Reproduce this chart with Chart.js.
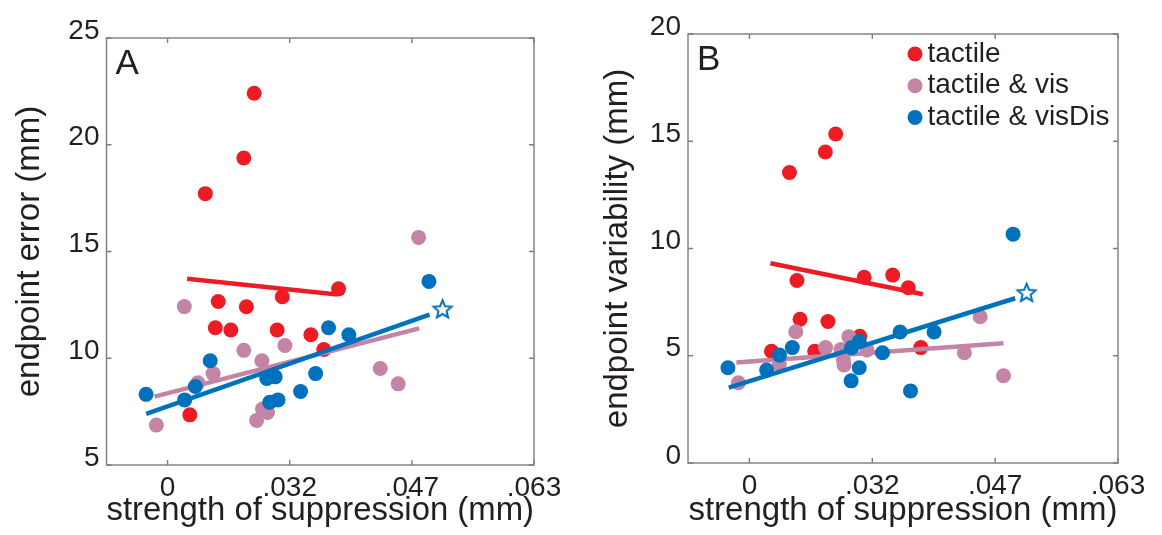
<!DOCTYPE html>
<html lang="en">
<head>
<meta charset="UTF-8" />
<title>Strength of suppression vs endpoint error / variability</title>
<script src="https://cdn.jsdelivr.net/npm/chart.js"></script>
<style>
  html, body { margin: 0; padding: 0; background: #fff; }
  #wrap { position: relative; width: 1162px; height: 535px; }
  .panel { position: absolute; top: 0; height: 535px; }
  #panelA { left: 0; width: 580px; }
  #panelB { left: 580px; width: 582px; }
</style>
</head>
<body>
<div id="wrap">
  <div class="panel" id="panelA"><canvas id="chartA" width="580" height="535"></canvas></div>
  <div class="panel" id="panelB"><canvas id="chartB" width="582" height="535"></canvas></div>
</div>

<script>
  // x axis is an index scale: tick i carries the label xTickLabels[i]
  const xTickVals = [0, 1, 2, 3];
  const xTickLabels = ["0", ".032", ".047", ".063"];
  const groupNames = ["tactile", "tactile & vis", "tactile & visDis"];
  const groupColors = ["#ed1c24", "#c484a6", "#0071bc"];

  // panel A - endpoint error
  const aTicksY = [5, 10, 15, 20, 25];
  const aTactileX = [0.709, 0.624, 0.309, 1.40, 0.939, 0.415, 0.645, 0.391, 0.518, 0.897, 1.173, 1.279, 0.182];
  const aTactileY = [22.41, 19.38, 17.71, 13.25, 12.88, 12.66, 12.41, 11.43, 11.32, 11.32, 11.1, 10.41, 7.35];
  const aVisX = [2.055, 0.137, 0.624, 0.961, 0.772, 0.373, 0.248, 1.741, 1.888, 0.777, 0.818, 0.729, -0.092];
  const aVisY = [15.66, 12.42, 10.37, 10.6, 9.88, 9.28, 8.85, 9.52, 8.8, 7.62, 7.46, 7.09, 6.87];
  const aVisDisX = [2.14, 1.318, 1.484, 0.349, 1.212, 0.812, 0.881, 0.227, -0.176, 1.089, 0.14, 0.836, 0.904];
  const aVisDisY = [13.6, 11.43, 11.1, 9.88, 9.28, 9.05, 9.13, 8.68, 8.31, 8.44, 8.05, 7.94, 8.05];
  const aFitTactileX = [0.16, 1.39];
  const aFitTactileY = [13.72, 12.99];
  const aFitVisX = [-0.107, 2.06];
  const aFitVisY = [8.2, 11.4];
  const aFitVisDisX = [-0.175, 2.145];
  const aFitVisDisY = [7.39, 12.04];
  const aStarX = [2.251];
  const aStarY = [12.32];

  // panel B - endpoint variability
  const bTicksY = [0, 5, 10, 15, 20];
  const bTactileX = [0.326, 0.618, 0.702, 0.387, 0.934, 1.166, 1.293, 0.412, 0.639, 0.898, 0.179, 0.531, 1.395];
  const bTactileY = [13.54, 14.5, 15.34, 8.51, 8.66, 8.76, 8.17, 6.7, 6.6, 5.91, 5.21, 5.21, 5.38];
  const bVisX = [1.878, 0.377, 0.81, 0.62, 0.745, 0.957, 1.75, 0.765, 0.77, 0.243, 2.068, -0.09];
  const bVisY = [6.82, 6.12, 5.89, 5.38, 5.29, 5.27, 5.14, 4.8, 4.57, 4.59, 4.07, 3.74];
  const bVisDisX = [-0.175, 0.14, 0.245, 0.349, 0.828, 0.831, 0.894, 0.894, 1.083, 1.226, 1.311, 1.503, 2.146];
  const bVisDisY = [4.44, 4.33, 5.03, 5.38, 3.83, 5.37, 5.67, 4.44, 5.14, 6.11, 3.36, 6.11, 10.67];
  const bFitTactileX = [0.171, 1.412];
  const bFitTactileY = [9.31, 7.87];
  const bFitVisX = [-0.106, 2.068];
  const bFitVisY = [4.69, 5.58];
  const bFitVisDisX = [-0.168, 2.163];
  const bFitVisDisY = [3.51, 7.68];
  const bStarX = [2.256];
  const bStarY = [7.96];

  const FONT = '"Liberation Sans", Arial, sans-serif';
  const TEXT = "#231f20";
  const AXIS = "#7d7d7d";
  Chart.defaults.font.family = FONT;

  const pts = (xs, ys) => xs.map((x, i) => ({ x, y: ys[i] }));

  // open five-point star marker
  const starMarker = (color, r) => {
    const c = document.createElement("canvas");
    const s = Math.ceil(r * 2 + 6);
    c.width = s; c.height = s;
    const g = c.getContext("2d");
    g.translate(s / 2, s / 2 + 1);
    g.beginPath();
    for (let i = 0; i < 10; i++) {
      const rad = i % 2 ? r * 0.45 : r;
      const a = -Math.PI / 2 + i * Math.PI / 5;
      g.lineTo(rad * Math.cos(a), rad * Math.sin(a));
    }
    g.closePath();
    g.fillStyle = "#fff";
    g.fill();
    g.strokeStyle = color;
    g.lineWidth = 2;
    g.stroke();
    return c;
  };

  const dots = (xs, ys, color, order) => ({
    data: pts(xs, ys), backgroundColor: color, borderWidth: 0,
    pointRadius: 7.5, pointHoverRadius: 7.5, order
  });
  const fit = (xs, ys, color, order) => ({
    data: pts(xs, ys), showLine: true, borderColor: color, borderWidth: 4.5,
    pointRadius: 0, order
  });

  // box, inward ticks, panel letter, legend
  const decor = {
    id: "decor",
    beforeDatasetsDraw(chart) {
      const { ctx, chartArea: { left, right, top, bottom }, scales: { x, y } } = chart;
      ctx.save();
      ctx.strokeStyle = AXIS;
      ctx.lineWidth = 1.4;
      ctx.strokeRect(left, top, right - left, bottom - top);
      ctx.beginPath();
      x.ticks.forEach(t => {
        const px = x.getPixelForValue(t.value);
        ctx.moveTo(px, bottom); ctx.lineTo(px, bottom - 5);
        ctx.moveTo(px, top); ctx.lineTo(px, top + 5);
      });
      y.ticks.forEach(t => {
        const py = y.getPixelForValue(t.value);
        ctx.moveTo(left, py); ctx.lineTo(left + 5, py);
        ctx.moveTo(right, py); ctx.lineTo(right - 5, py);
      });
      ctx.stroke();
      ctx.restore();
    },
    afterDraw(chart, args, opts) {
      const { ctx, chartArea: { left, top } } = chart;
      ctx.save();
      ctx.fillStyle = TEXT;
      ctx.font = "35px " + FONT;
      ctx.textBaseline = "alphabetic";
      ctx.fillText(opts.letter, left + 9, top + 36);
      if (opts.legend) {
        ctx.font = "28px " + FONT;
        ctx.textBaseline = "middle";
        groupNames.forEach((name, i) => {
          const ly = top + 20 + i * 31.7;
          ctx.fillStyle = groupColors[i];
          ctx.beginPath();
          ctx.arc(left + 227, ly, 7.5, 0, Math.PI * 2);
          ctx.fill();
          ctx.fillStyle = TEXT;
          ctx.fillText(name, left + 239.5, ly);
        });
      }
      ctx.restore();
    }
  };

  const makeChart = (id, cfg) => new Chart(document.getElementById(id), {
    type: "scatter",
    data: {
      datasets: [
        fit(cfg.fitX[2], cfg.fitY[2], groupColors[2], 0),
        { data: pts(cfg.starX, cfg.starY), pointStyle: starMarker(groupColors[2], 9.5), order: 0 },
        dots(cfg.dotX[2], cfg.dotY[2], groupColors[2], 1),
        fit(cfg.fitX[1], cfg.fitY[1], groupColors[1], 2),
        dots(cfg.dotX[1], cfg.dotY[1], groupColors[1], 3),
        fit(cfg.fitX[0], cfg.fitY[0], groupColors[0], 4),
        dots(cfg.dotX[0], cfg.dotY[0], groupColors[0], 5)
      ]
    },
    options: {
      responsive: false,
      animation: false,
      events: [],
      layout: { padding: { top: cfg.top, right: cfg.right, left: 0, bottom: 0 } },
      plugins: {
        legend: { display: false },
        tooltip: { enabled: false },
        decor: { letter: cfg.letter, legend: cfg.legend }
      },
      scales: {
        x: {
          type: "linear", min: -0.5, max: 3,
          afterBuildTicks: s => { s.ticks = xTickVals.map(v => ({ value: v })); },
          afterFit: s => { s.height = cfg.xHeight; },
          grid: { display: false, drawTicks: false },
          border: { display: false },
          ticks: { padding: 6, color: TEXT, font: { size: 28 }, callback: v => xTickLabels[v] ?? "" },
          title: { display: true, text: "strength of suppression (mm)", color: TEXT, font: { size: 33 }, padding: { bottom: 4 } }
        },
        y: {
          type: "linear", min: cfg.ticksY[0], max: cfg.ticksY[cfg.ticksY.length - 1],
          afterBuildTicks: s => { s.ticks = cfg.ticksY.map(v => ({ value: v })); },
          afterFit: s => { s.width = cfg.yWidth; },
          grid: { display: false, drawTicks: false },
          border: { display: false },
          ticks: { padding: 7, labelOffset: -7, color: TEXT, font: { size: 28 } },
          title: { display: true, text: cfg.yTitle, color: TEXT, font: { size: 33 }, padding: { top: cfg.yTitlePad } }
        }
      }
    },
    plugins: [decor]
  });

  makeChart("chartA", {
    letter: "A", legend: false, yTitle: "endpoint error (mm)", ticksY: aTicksY,
    top: 38, right: 46, yWidth: 106.5, xHeight: 70, yTitlePad: 10,
    dotX: [aTactileX, aVisX, aVisDisX], dotY: [aTactileY, aVisY, aVisDisY],
    fitX: [aFitTactileX, aFitVisX, aFitVisDisX], fitY: [aFitTactileY, aFitVisY, aFitVisDisY],
    starX: aStarX, starY: aStarY
  });

  makeChart("chartB", {
    letter: "B", legend: true, yTitle: "endpoint variability (mm)", ticksY: bTicksY,
    top: 34, right: 44, yWidth: 108, xHeight: 72, yTitlePad: 18,
    dotX: [bTactileX, bVisX, bVisDisX], dotY: [bTactileY, bVisY, bVisDisY],
    fitX: [bFitTactileX, bFitVisX, bFitVisDisX], fitY: [bFitTactileY, bFitVisY, bFitVisDisY],
    starX: bStarX, starY: bStarY
  });
</script>
</body>
</html>
